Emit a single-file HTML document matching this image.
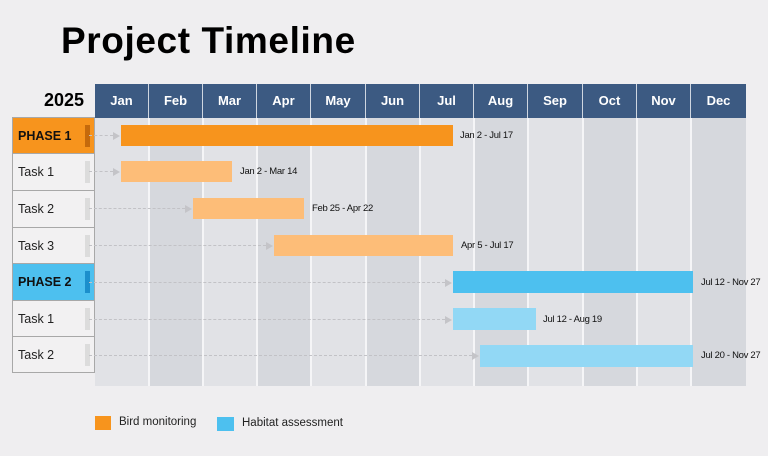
<!DOCTYPE html>
<html><head><meta charset="utf-8"><style>
*{margin:0;padding:0;box-sizing:border-box}
body{width:768px;height:456px;background:#efeef0;position:relative;overflow:hidden;font-family:"Liberation Sans",sans-serif}
.a{position:absolute}
.title{left:61px;top:20px;font-size:37px;font-weight:bold;color:#000;letter-spacing:0.6px}
.mh{top:84px;height:34px;background:#3c5a82;color:#fff;font-size:13px;font-weight:bold;text-align:center;line-height:34px;border-right:1.5px solid #cfd6e0}
.col{top:118px;height:268px}
.vl{top:118px;height:268px;width:1.5px;background:#f5f5f7}
.lab{left:12px;width:83px;height:37px;border:1px solid #a8a8a8;border-top:none;font-size:12.5px;color:#222;padding-left:5px;line-height:36px;background:#f2f1f2;white-space:nowrap}
.h{width:5px;height:22px;top:7px;left:72px;background:#dcdcdc}
.bar{height:21px}
.dl{height:0;border-top:1.5px dashed #c2c2c6}
.ar{width:0;height:0;border-left:7px solid #c4c4c8;border-top:4px solid transparent;border-bottom:4px solid transparent}
.t{font-size:9.5px;color:#111;white-space:nowrap;letter-spacing:-0.3px}
.lg{font-size:11.5px;color:#222;white-space:nowrap}
</style></head><body>
<div class="a title">Project Timeline</div>
<div class="a" style="left:44px;top:90px;font-size:18px;font-weight:bold">2025</div>

<div class="a col" style="left:95px;width:54px;background:#e1e2e6"></div>
<div class="a col" style="left:149px;width:54px;background:#d6d8dd"></div>
<div class="a col" style="left:203px;width:54px;background:#e1e2e6"></div>
<div class="a col" style="left:257px;width:54px;background:#d6d8dd"></div>
<div class="a col" style="left:311px;width:55px;background:#e1e2e6"></div>
<div class="a col" style="left:366px;width:54px;background:#d6d8dd"></div>
<div class="a col" style="left:420px;width:54px;background:#e1e2e6"></div>
<div class="a col" style="left:474px;width:54px;background:#d6d8dd"></div>
<div class="a col" style="left:528px;width:55px;background:#e1e2e6"></div>
<div class="a col" style="left:583px;width:54px;background:#d6d8dd"></div>
<div class="a col" style="left:637px;width:54px;background:#e1e2e6"></div>
<div class="a col" style="left:691px;width:55px;background:#d6d8dd"></div>
<div class="a vl" style="left:148px"></div><div class="a vl" style="left:202px"></div><div class="a vl" style="left:256px"></div><div class="a vl" style="left:310px"></div><div class="a vl" style="left:365px"></div><div class="a vl" style="left:419px"></div><div class="a vl" style="left:473px"></div><div class="a vl" style="left:527px"></div><div class="a vl" style="left:582px"></div><div class="a vl" style="left:636px"></div><div class="a vl" style="left:690px"></div>

<div class="a mh" style="left:95px;width:54px">Jan</div>
<div class="a mh" style="left:149px;width:54px">Feb</div>
<div class="a mh" style="left:203px;width:54px">Mar</div>
<div class="a mh" style="left:257px;width:54px">Apr</div>
<div class="a mh" style="left:311px;width:55px">May</div>
<div class="a mh" style="left:366px;width:54px">Jun</div>
<div class="a mh" style="left:420px;width:54px">Jul</div>
<div class="a mh" style="left:474px;width:54px">Aug</div>
<div class="a mh" style="left:528px;width:55px">Sep</div>
<div class="a mh" style="left:583px;width:54px">Oct</div>
<div class="a mh" style="left:637px;width:54px">Nov</div>
<div class="a mh" style="left:691px;width:55px;border-right:none">Dec</div>

<div class="a lab" style="top:117px;height:37px;border-top:1px solid #a8a8a8;background:#f7941d;font-weight:bold;color:#111">PHASE 1<div class="a h" style="background:#c56a0c"></div></div>
<div class="a lab" style="top:154px">Task 1<div class="a h"></div></div>
<div class="a lab" style="top:191px">Task 2<div class="a h"></div></div>
<div class="a lab" style="top:228px;height:36px">Task 3<div class="a h"></div></div>
<div class="a lab" style="top:264px;background:#4dc0ef;font-weight:bold;color:#111">PHASE 2<div class="a h" style="background:#1b8fcc"></div></div>
<div class="a lab" style="top:301px;height:36px">Task 1<div class="a h"></div></div>
<div class="a lab" style="top:337px;height:36px">Task 2<div class="a h"></div></div>

<div class="a dl" style="left:89px;top:135px;width:24px"></div><div class="a ar" style="left:113px;top:132px"></div>
<div class="a dl" style="left:89px;top:171px;width:24px"></div><div class="a ar" style="left:113px;top:168px"></div>
<div class="a dl" style="left:89px;top:208px;width:96px"></div><div class="a ar" style="left:185px;top:205px"></div>
<div class="a dl" style="left:89px;top:245px;width:177px"></div><div class="a ar" style="left:266px;top:242px"></div>
<div class="a dl" style="left:89px;top:282px;width:356px"></div><div class="a ar" style="left:445px;top:279px"></div>
<div class="a dl" style="left:89px;top:319px;width:356px"></div><div class="a ar" style="left:445px;top:316px"></div>
<div class="a dl" style="left:89px;top:355px;width:383px"></div><div class="a ar" style="left:472px;top:352px"></div>

<div class="a bar" style="left:121px;top:125px;width:332px;background:#f7941d"></div>
<div class="a t" style="left:460px;top:130px">Jan 2 - Jul 17</div>
<div class="a bar" style="left:121px;top:161px;width:111px;background:#fdbd78"></div>
<div class="a t" style="left:240px;top:166px">Jan 2 - Mar 14</div>
<div class="a bar" style="left:193px;top:198px;width:111px;background:#fdbd78"></div>
<div class="a t" style="left:312px;top:203px">Feb 25 - Apr 22</div>
<div class="a bar" style="left:274px;top:235px;width:179px;background:#fdbd78"></div>
<div class="a t" style="left:461px;top:240px">Apr 5 - Jul 17</div>
<div class="a bar" style="left:453px;top:271px;width:240px;height:22px;background:#4dc0ef"></div>
<div class="a t" style="left:701px;top:277px">Jul 12 - Nov 27</div>
<div class="a bar" style="left:453px;top:308px;width:83px;height:22px;background:#92d8f5"></div>
<div class="a t" style="left:543px;top:314px">Jul 12 - Aug 19</div>
<div class="a bar" style="left:480px;top:345px;width:213px;height:22px;background:#92d8f5"></div>
<div class="a t" style="left:701px;top:350px">Jul 20 - Nov 27</div>

<div class="a" style="left:95px;top:416px;width:16px;height:14px;background:#f7941d"></div>
<div class="a lg" style="left:119px;top:416px">Bird monitoring</div>
<div class="a" style="left:217px;top:417px;width:17px;height:14px;background:#4dc0ef"></div>
<div class="a lg" style="left:242px;top:417px">Habitat assessment</div>
</body></html>
